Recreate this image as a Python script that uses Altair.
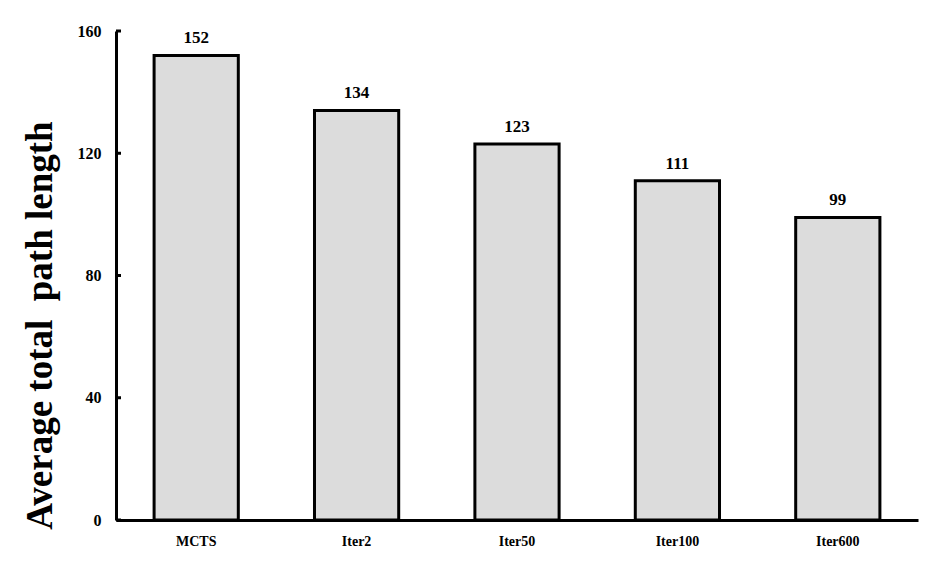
import altair as alt
import pandas as pd

categories = ["MCTS", "Iter2", "Iter50", "Iter100", "Iter600"]
values = [152, 134, 123, 111, 99]
y_ticks = [0, 40, 80, 120, 160]

df = pd.DataFrame({"method": categories, "length": values})
ticks_df = pd.DataFrame({"t": y_ticks})

FONT = "Liberation Serif"

x_enc = alt.X("method:N", sort=categories, title=None,
              scale=alt.Scale(paddingInner=0.475, paddingOuter=0.2375),
              axis=alt.Axis(labelAngle=0, labelFont=FONT, labelFontSize=14, labelFontWeight="bold",
                            labelColor="black", labelPadding=14, ticks=False,
                            domainColor="black", domainWidth=3, grid=False))
y_scale = alt.Scale(domain=[0, 160], nice=False)

bars = alt.Chart(df).mark_bar(fill="#dcdcdc", stroke="black", strokeWidth=3).encode(
    x=x_enc,
    y=alt.Y("length:Q", scale=y_scale, title="Average total \u00a0path length",
            axis=alt.Axis(values=y_ticks, labelFont=FONT, labelFontSize=16, labelFontWeight="bold",
                          labelColor="black", labelPadding=15, ticks=False,
                          domainColor="black", domainWidth=3, grid=False,
                          titleFont=FONT, titleFontSize=37, titleFontWeight="bold", titleColor="black",
                          titleAngle=-90, titleX=-57, titleY=294, titleAlign="center", titleBaseline="bottom")),
)

labels = alt.Chart(df).mark_text(font=FONT, fontSize=17, fontWeight="bold", color="black", dy=-17).encode(
    x=alt.X("method:N", sort=categories),
    y=alt.Y("length:Q", scale=y_scale),
    text=alt.Text("length:Q"),
)

ticks = alt.Chart(ticks_df).mark_rule(color="black", strokeWidth=3).encode(
    y=alt.Y("t:Q", scale=y_scale),
    x=alt.value(0),
    x2=alt.value(5),
)

chart = alt.layer(bars, labels, ticks).properties(
    width=802, height=489,
    background="white",
    autosize=alt.AutoSizeParams(type="none"),
    padding={"left": 108, "top": 23, "right": 9, "bottom": 40},
).configure_view(strokeWidth=0, stroke=None)

chart.save("out.html", embed_options={"renderer": "svg", "actions": False})
